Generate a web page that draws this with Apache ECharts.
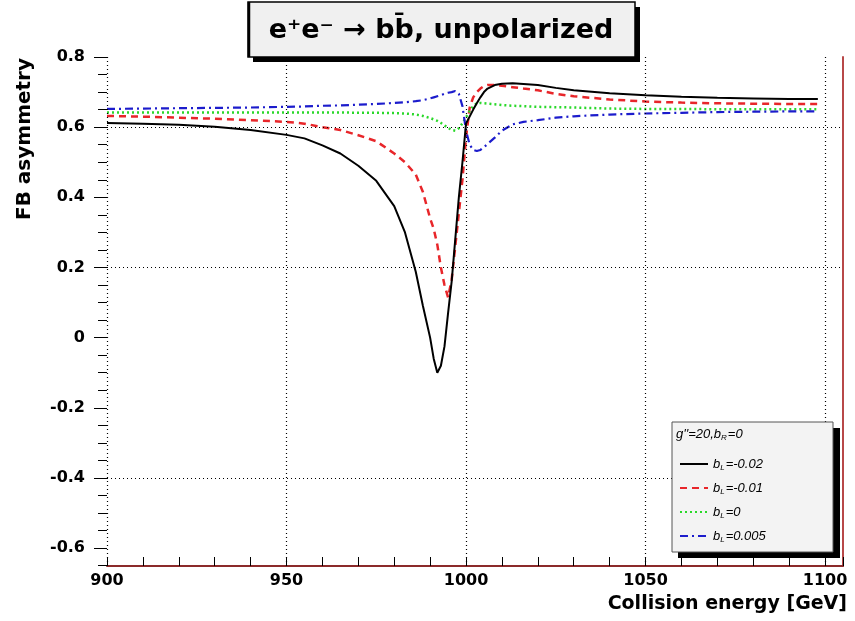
<!DOCTYPE html>
<html>
<head>
<meta charset="utf-8">
<script src="https://cdn.jsdelivr.net/npm/echarts@6/dist/echarts.min.js"></script>
<style>
html,body{margin:0;padding:0;background:#fff;}
#chart{width:855px;height:621px;}
</style>
</head>
<body>
<div id="chart"></div>
<script>
// ---- data ----
const energy = [900,910,920,930,940,950,955,960,965,970,975,980,983,986,988,990,991,992,993,994,995,996,997,998,999,1000,1001,1002,1003,1004,1005,1006,1008,1010,1013,1016,1020,1025,1030,1040,1050,1060,1070,1080,1090,1098];
const asymBLm002 = [0.612,0.610,0.607,0.601,0.592,0.578,0.568,0.548,0.525,0.490,0.447,0.375,0.300,0.188,0.090,0.000,-0.060,-0.100,-0.080,-0.025,0.070,0.160,0.280,0.400,0.500,0.610,0.630,0.650,0.668,0.685,0.700,0.710,0.720,0.724,0.725,0.723,0.720,0.712,0.705,0.697,0.691,0.687,0.684,0.682,0.680,0.680];
const asymBLm001 = [0.632,0.630,0.627,0.624,0.620,0.615,0.610,0.600,0.592,0.577,0.560,0.525,0.500,0.465,0.415,0.340,0.310,0.265,0.200,0.150,0.115,0.165,0.260,0.355,0.450,0.570,0.655,0.685,0.700,0.710,0.717,0.720,0.720,0.718,0.714,0.710,0.705,0.695,0.688,0.679,0.673,0.670,0.668,0.667,0.666,0.666];
const asymBL0 = [0.642,0.642,0.642,0.642,0.642,0.642,0.642,0.642,0.642,0.641,0.641,0.640,0.639,0.636,0.632,0.626,0.622,0.618,0.612,0.605,0.598,0.592,0.590,0.597,0.611,0.628,0.646,0.660,0.668,0.669,0.668,0.667,0.665,0.663,0.661,0.660,0.658,0.657,0.656,0.653,0.652,0.652,0.651,0.651,0.651,0.651];
const asymBLp0005 = [0.652,0.653,0.654,0.655,0.656,0.658,0.659,0.661,0.662,0.664,0.666,0.669,0.671,0.674,0.677,0.682,0.685,0.688,0.691,0.695,0.698,0.700,0.703,0.695,0.660,0.590,0.550,0.535,0.532,0.535,0.543,0.552,0.570,0.590,0.608,0.615,0.620,0.627,0.631,0.636,0.639,0.641,0.643,0.644,0.645,0.645];
const seriesNames = ['b_L=-0.02','b_L=-0.01','b_L=0','b_L=0.005'];
const yLabelValues = [-0.6,-0.4,-0.2,0,0.2,0.4,0.6,0.8];
const yMinorValues = [-0.65,-0.55,-0.5,-0.45,-0.35,-0.3,-0.25,-0.15,-0.1,-0.05,0.05,0.1,0.15,0.25,0.3,0.35,0.45,0.5,0.55,0.65,0.7,0.75];
const xGridValues = [900,950,1000,1050,1100];
const yGridValues = [0.6,0.2,-0.4];
const titleText = 'e\u207Ae\u207B \u2192 bb\u0304, unpolarized';
const xTitle = 'Collision energy [GeV]';
const yTitle = 'FB asymmetry';

const pairs = arr => energy.map((e,i)=>[e,arr[i]]);

const chart = echarts.init(document.getElementById('chart'), null, {renderer:'canvas'});
const FONT = 'DejaVu Sans';

const option = {
  animation:false,
  backgroundColor:'#ffffff',
  grid:{left:107,right:12,top:57,bottom:55,containLabel:false},
  xAxis:{
    type:'value',min:900,max:1105,interval:10,
    axisLine:{show:true,onZero:false,lineStyle:{color:'#8b2a2a',width:2}},
    axisTick:{show:true,inside:true,length:9,lineStyle:{color:'#000',width:1}},
    axisLabel:{margin:7,color:'#000',fontFamily:FONT,fontWeight:'bold',fontSize:16,
      formatter:v=> (v%50===0 ? String(v) : '')},
    splitLine:{show:false}
  },
  yAxis:[
    {type:'value',min:-0.651,max:0.8,position:'left',
      axisLine:{show:false},
      axisTick:{show:true,inside:false,length:13,customValues:yLabelValues,lineStyle:{color:'#000',width:1}},
      axisLabel:{show:true,customValues:yLabelValues,margin:22,color:'#000',fontFamily:FONT,fontWeight:'bold',fontSize:16,
        formatter:v=> (Math.abs(v)<1e-9 ? '0' : v.toFixed(1))},
      splitLine:{show:false}},
    {type:'value',min:-0.651,max:0.8,position:'left',
      axisLine:{show:false},
      axisTick:{show:true,inside:false,length:9,customValues:yMinorValues,lineStyle:{color:'#000',width:1}},
      axisLabel:{show:false},splitLine:{show:false}},
    {type:'value',min:-0.651,max:0.8,position:'right',
      axisLine:{show:true,lineStyle:{color:'#b84848',width:2}},
      axisTick:{show:false},axisLabel:{show:false},splitLine:{show:false}}
  ],
  legend:{
    data:seriesNames,orient:'vertical',left:674,top:452,
    itemWidth:28,itemHeight:12,itemGap:9,z:20,
    itemStyle:{opacity:0},
    textStyle:{color:'#000',fontFamily:'Liberation Sans',fontSize:13,fontStyle:'italic',
      rich:{
        i:{fontFamily:'Liberation Sans',fontStyle:'italic',fontSize:13,color:'#000',lineHeight:16},
        s:{fontFamily:'Liberation Sans',fontStyle:'italic',fontSize:8,color:'#000',lineHeight:16,verticalAlign:'bottom',padding:[7,1,0,0]}
      }},
    formatter:name=>{
      const rest = name.slice(3);
      return '{i|b}{s|L}{i|' + rest + '}';
    }
  },
  graphic:[
    // title box
    {type:'rect',z:30,shape:{x:253,y:7,width:387,height:55},style:{fill:'#000'}},
    {type:'rect',z:31,shape:{x:248,y:2,width:387,height:55},style:{fill:'#f0f0f0',stroke:'#000',lineWidth:1.5}},
    {type:'line',z:32,shape:{x1:249,y1:2,x2:249,y2:57},style:{stroke:'#000',lineWidth:2.5}},
    {type:'text',z:32,x:441,y:31,style:{text:titleText,fill:'#000',font:'bold 27px "DejaVu Sans"',align:'center',verticalAlign:'middle'}},
    // legend box
    {type:'rect',z:5,shape:{x:678,y:428,width:162,height:130},style:{fill:'#000'}},
    {type:'rect',z:6,shape:{x:672,y:422,width:161,height:130},style:{fill:'#f3f3f3',stroke:'#555',lineWidth:1}},
    {type:'text',z:21,x:676,y:434,style:{
      text:"{i|g''=20,b}{s|R}{i|=0}",fill:'#000',verticalAlign:'middle',
      rich:{
        i:{fontFamily:'Liberation Sans',fontStyle:'italic',fontSize:13,fill:'#000',lineHeight:16},
        s:{fontFamily:'Liberation Sans',fontStyle:'italic',fontSize:8,fill:'#000',lineHeight:16,verticalAlign:'bottom',padding:[7,1,0,0]}
      }}},
    // axis titles
    {type:'text',z:10,x:847,y:604,style:{text:xTitle,fill:'#000',font:'bold 19px "DejaVu Sans"',align:'right',verticalAlign:'middle'}},
    {type:'text',z:10,x:25,y:58,rotation:Math.PI/2,style:{text:yTitle,fill:'#000',font:'bold 20px "DejaVu Sans"',align:'right',verticalAlign:'middle'}}
  ],
  series:[
    {name:'grid',type:'line',data:[],z:1,silent:true,
      markLine:{silent:true,symbol:['none','none'],label:{show:false},animation:false,
        lineStyle:{color:'#000',type:[1,3],width:1.2},
        data:[...yGridValues.map(v=>({yAxis:v})),...xGridValues.map(v=>({xAxis:v}))]}},
    {name:seriesNames[0],type:'line',data:pairs(asymBLm002),symbol:'none',showSymbol:false,z:4,
      lineStyle:{color:'#000',width:2,type:'solid'},itemStyle:{color:'#000'}},
    {name:seriesNames[1],type:'line',data:pairs(asymBLm001),symbol:'none',showSymbol:false,z:3,
      lineStyle:{color:'#e8262a',width:2.5,type:[7,5]},itemStyle:{color:'#e8262a'}},
    {name:seriesNames[2],type:'line',data:pairs(asymBL0),symbol:'none',showSymbol:false,z:3,
      lineStyle:{color:'#2ad82a',width:2.5,type:[2,3]},itemStyle:{color:'#2ad82a'}},
    {name:seriesNames[3],type:'line',data:pairs(asymBLp0005),symbol:'none',showSymbol:false,z:3,
      lineStyle:{color:'#1c1ccc',width:2.2,type:[8,4,2,4]},itemStyle:{color:'#1c1ccc'}}
  ]
};
chart.setOption(option);
</script>
</body>
</html>
